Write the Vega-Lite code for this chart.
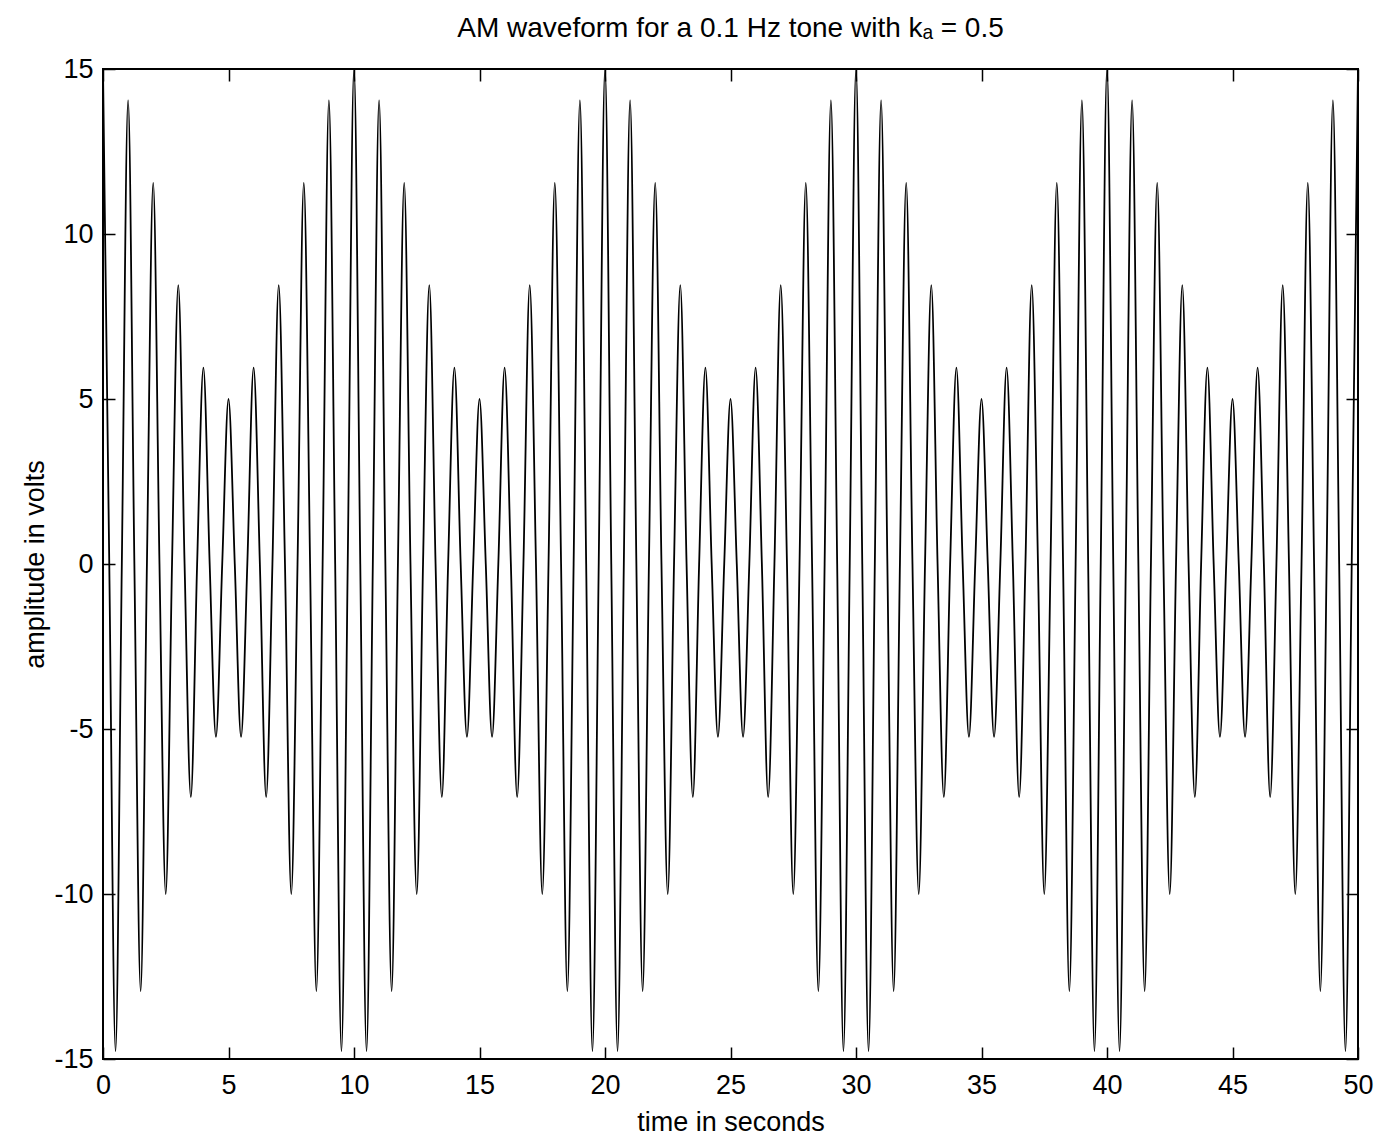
{
  "$schema": "https://vega.github.io/schema/vega-lite/v6.json",
  "width": 1255,
  "height": 990,
  "autosize": {"type": "none"},
  "padding": {"left": 103, "top": 69, "right": 22, "bottom": 76},
  "background": "white",
  "config": {
    "font": "Liberation Sans",
    "view": {"stroke": "black", "strokeWidth": 2},
    "axis": {"grid": false, "domain": false, "tickColor": "black", "tickWidth": 1.5, "tickSize": -12, "labelColor": "black", "labelFontSize": 27, "labelFlush": false, "titleFontSize": 27, "titleFontWeight": "normal", "titleColor": "black"}
  },
  "title": {"text": "AM waveform for a 0.1 Hz tone with kₐ = 0.5", "fontSize": 28, "fontWeight": "normal", "color": "black", "offset": 12},
  "data": {"values": [
{"t":0,"v":15},{"t":0.25,"v":0},{"t":0.5,"v":-14.76},{"t":0.75,"v":0},{"t":1,"v":14.05},{"t":1.25,"v":0},{"t":1.5,"v":-12.94},{"t":1.75,"v":0},{"t":2,"v":11.55},{"t":2.25,"v":0},{"t":2.5,"v":-10},{"t":2.75,"v":0},{"t":3,"v":8.45},{"t":3.25,"v":0},{"t":3.5,"v":-7.06},{"t":3.75,"v":0},{"t":4,"v":5.95},{"t":4.25,"v":0},{"t":4.5,"v":-5.24},{"t":4.75,"v":0},{"t":5,"v":5},{"t":5.25,"v":0},{"t":5.5,"v":-5.24},{"t":5.75,"v":0},{"t":6,"v":5.95},{"t":6.25,"v":0},{"t":6.5,"v":-7.06},{"t":6.75,"v":0},{"t":7,"v":8.45},{"t":7.25,"v":0},{"t":7.5,"v":-10},{"t":7.75,"v":0},{"t":8,"v":11.55},{"t":8.25,"v":0},{"t":8.5,"v":-12.94},{"t":8.75,"v":0},{"t":9,"v":14.05},{"t":9.25,"v":0},{"t":9.5,"v":-14.76},{"t":9.75,"v":0},
{"t":10,"v":15},{"t":10.25,"v":0},{"t":10.5,"v":-14.76},{"t":10.75,"v":0},{"t":11,"v":14.05},{"t":11.25,"v":0},{"t":11.5,"v":-12.94},{"t":11.75,"v":0},{"t":12,"v":11.55},{"t":12.25,"v":0},{"t":12.5,"v":-10},{"t":12.75,"v":0},{"t":13,"v":8.45},{"t":13.25,"v":0},{"t":13.5,"v":-7.06},{"t":13.75,"v":0},{"t":14,"v":5.95},{"t":14.25,"v":0},{"t":14.5,"v":-5.24},{"t":14.75,"v":0},{"t":15,"v":5},{"t":15.25,"v":0},{"t":15.5,"v":-5.24},{"t":15.75,"v":0},{"t":16,"v":5.95},{"t":16.25,"v":0},{"t":16.5,"v":-7.06},{"t":16.75,"v":0},{"t":17,"v":8.45},{"t":17.25,"v":0},{"t":17.5,"v":-10},{"t":17.75,"v":0},{"t":18,"v":11.55},{"t":18.25,"v":0},{"t":18.5,"v":-12.94},{"t":18.75,"v":0},{"t":19,"v":14.05},{"t":19.25,"v":0},{"t":19.5,"v":-14.76},{"t":19.75,"v":0},
{"t":20,"v":15},{"t":20.25,"v":0},{"t":20.5,"v":-14.76},{"t":20.75,"v":0},{"t":21,"v":14.05},{"t":21.25,"v":0},{"t":21.5,"v":-12.94},{"t":21.75,"v":0},{"t":22,"v":11.55},{"t":22.25,"v":0},{"t":22.5,"v":-10},{"t":22.75,"v":0},{"t":23,"v":8.45},{"t":23.25,"v":0},{"t":23.5,"v":-7.06},{"t":23.75,"v":0},{"t":24,"v":5.95},{"t":24.25,"v":0},{"t":24.5,"v":-5.24},{"t":24.75,"v":0},{"t":25,"v":5},{"t":25.25,"v":0},{"t":25.5,"v":-5.24},{"t":25.75,"v":0},{"t":26,"v":5.95},{"t":26.25,"v":0},{"t":26.5,"v":-7.06},{"t":26.75,"v":0},{"t":27,"v":8.45},{"t":27.25,"v":0},{"t":27.5,"v":-10},{"t":27.75,"v":0},{"t":28,"v":11.55},{"t":28.25,"v":0},{"t":28.5,"v":-12.94},{"t":28.75,"v":0},{"t":29,"v":14.05},{"t":29.25,"v":0},{"t":29.5,"v":-14.76},{"t":29.75,"v":0},
{"t":30,"v":15},{"t":30.25,"v":0},{"t":30.5,"v":-14.76},{"t":30.75,"v":0},{"t":31,"v":14.05},{"t":31.25,"v":0},{"t":31.5,"v":-12.94},{"t":31.75,"v":0},{"t":32,"v":11.55},{"t":32.25,"v":0},{"t":32.5,"v":-10},{"t":32.75,"v":0},{"t":33,"v":8.45},{"t":33.25,"v":0},{"t":33.5,"v":-7.06},{"t":33.75,"v":0},{"t":34,"v":5.95},{"t":34.25,"v":0},{"t":34.5,"v":-5.24},{"t":34.75,"v":0},{"t":35,"v":5},{"t":35.25,"v":0},{"t":35.5,"v":-5.24},{"t":35.75,"v":0},{"t":36,"v":5.95},{"t":36.25,"v":0},{"t":36.5,"v":-7.06},{"t":36.75,"v":0},{"t":37,"v":8.45},{"t":37.25,"v":0},{"t":37.5,"v":-10},{"t":37.75,"v":0},{"t":38,"v":11.55},{"t":38.25,"v":0},{"t":38.5,"v":-12.94},{"t":38.75,"v":0},{"t":39,"v":14.05},{"t":39.25,"v":0},{"t":39.5,"v":-14.76},{"t":39.75,"v":0},
{"t":40,"v":15},{"t":40.25,"v":0},{"t":40.5,"v":-14.76},{"t":40.75,"v":0},{"t":41,"v":14.05},{"t":41.25,"v":0},{"t":41.5,"v":-12.94},{"t":41.75,"v":0},{"t":42,"v":11.55},{"t":42.25,"v":0},{"t":42.5,"v":-10},{"t":42.75,"v":0},{"t":43,"v":8.45},{"t":43.25,"v":0},{"t":43.5,"v":-7.06},{"t":43.75,"v":0},{"t":44,"v":5.95},{"t":44.25,"v":0},{"t":44.5,"v":-5.24},{"t":44.75,"v":0},{"t":45,"v":5},{"t":45.25,"v":0},{"t":45.5,"v":-5.24},{"t":45.75,"v":0},{"t":46,"v":5.95},{"t":46.25,"v":0},{"t":46.5,"v":-7.06},{"t":46.75,"v":0},{"t":47,"v":8.45},{"t":47.25,"v":0},{"t":47.5,"v":-10},{"t":47.75,"v":0},{"t":48,"v":11.55},{"t":48.25,"v":0},{"t":48.5,"v":-12.94},{"t":48.75,"v":0},{"t":49,"v":14.05},{"t":49.25,"v":0},{"t":49.5,"v":-14.76},{"t":49.75,"v":0},
{"t":50,"v":15}
  ]},
  "layer": [
    {
      "mark": {"type": "line", "interpolate": "monotone", "color": "black", "strokeWidth": 1.8},
      "encoding": {
        "x": {"field": "t", "type": "quantitative", "scale": {"domain": [0, 50], "nice": false}, "axis": {"orient": "bottom", "title": "time in seconds", "values": [0,5,10,15,20,25,30,35,40,45,50], "labelExpr": "datum.value + ''", "labelPadding": 25, "titleY": 71, "titleBaseline": "alphabetic"}},
        "y": {"field": "v", "type": "quantitative", "scale": {"domain": [-15, 15], "nice": false}, "axis": {"orient": "left", "title": "amplitude in volts", "values": [-15,-10,-5,0,5,10,15], "labelExpr": "datum.value + ''", "labelPadding": 22, "titleX": -54}}
      }
    },
    {
      "mark": {"type": "line", "opacity": 0},
      "encoding": {
        "x": {"field": "t", "type": "quantitative", "axis": {"orient": "top", "title": null, "labels": false, "values": [0,5,10,15,20,25,30,35,40,45,50]}},
        "y": {"field": "v", "type": "quantitative", "axis": {"orient": "right", "title": null, "labels": false, "values": [-15,-10,-5,0,5,10,15]}}
      }
    }
  ],
  "resolve": {"axis": {"x": "independent", "y": "independent"}}
}
